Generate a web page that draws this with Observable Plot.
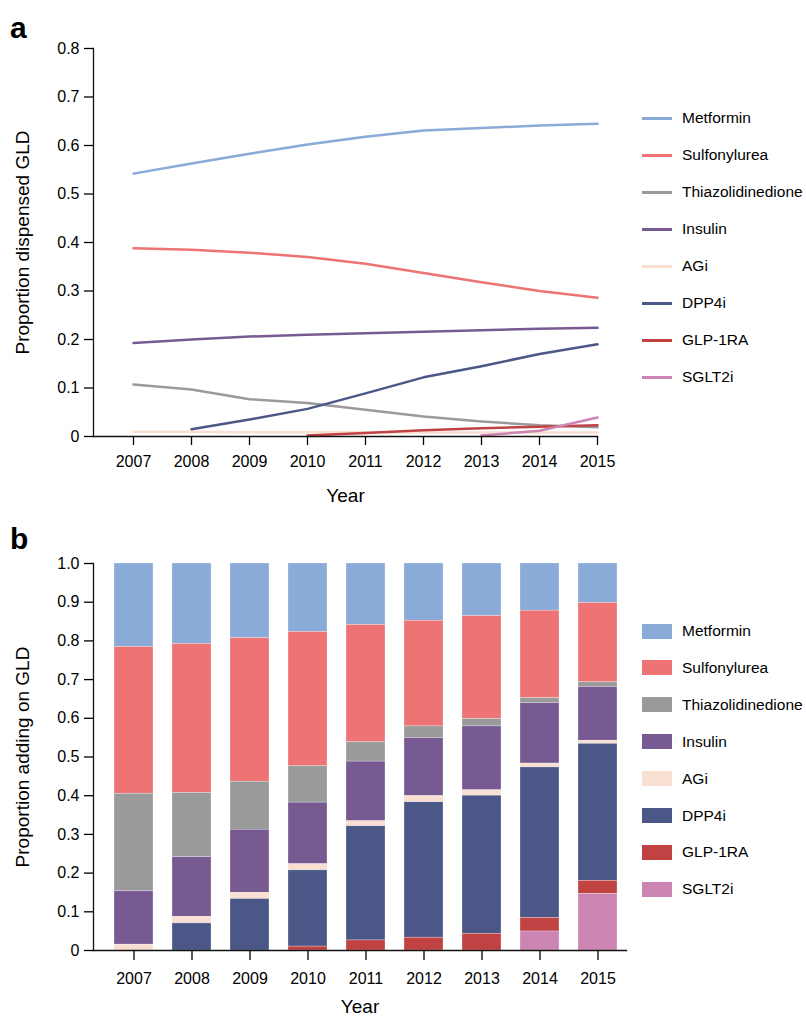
<!DOCTYPE html>
<html><head><meta charset="utf-8">
<script src="https://cdn.jsdelivr.net/npm/d3@7"></script>
<script src="https://cdn.jsdelivr.net/npm/@observablehq/plot@0.6"></script>
<style>
body{margin:0;background:#fff;font-family:"Liberation Sans",Arial,sans-serif;color:#000;}
#wrap{position:relative;width:806px;height:1018px;overflow:hidden;}
.panel{position:absolute;left:0;}
.letter{position:absolute;font-weight:bold;font-size:30px;line-height:30px;}
.item{position:absolute;left:642px;height:20px;display:flex;align-items:center;font-size:15.5px;white-space:nowrap;}
.item .key{width:30px;margin-right:10px;flex:none;}
</style></head>
<body>
<div id="wrap"></div>
<script>
const years = [2007, 2008, 2009, 2010, 2011, 2012, 2013, 2014, 2015];
const drugs = ["Metformin", "Sulfonylurea", "Thiazolidinedione", "Insulin", "AGi", "DPP4i", "GLP-1RA", "SGLT2i"];
const colors = ["#8aaad8", "#ee7375", "#9a9a9a", "#775a92", "#f8dfd1", "#4a5787", "#c04242", "#cc84b2"];
const yTicksA = [0, 0.1, 0.2, 0.3, 0.4, 0.5, 0.6, 0.7, 0.8];
const yTicksB = [0, 0.1, 0.2, 0.3, 0.4, 0.5, 0.6, 0.7, 0.8, 0.9, 1.0];

// Panel a: proportion dispensed
const metforminDisp = [0.542, 0.563, 0.583, 0.602, 0.618, 0.631, 0.636, 0.641, 0.645];
const sulfonylureaDisp = [0.388, 0.385, 0.379, 0.370, 0.356, 0.337, 0.318, 0.300, 0.286];
const tzdDisp = [0.107, 0.097, 0.077, 0.069, 0.055, 0.041, 0.031, 0.023, 0.019];
const insulinDisp = [0.193, 0.200, 0.206, 0.210, 0.213, 0.216, 0.219, 0.222, 0.224];
const agiDisp = [0.010, 0.010, 0.009, 0.009, 0.009, 0.008, 0.008, 0.008, 0.008];
const dpp4iDisp = [null, 0.015, 0.035, 0.057, 0.089, 0.122, 0.145, 0.170, 0.190];
const glp1Disp = [null, null, null, 0.002, 0.007, 0.013, 0.017, 0.020, 0.023];
const sglt2Disp = [null, null, null, null, null, null, 0.002, 0.012, 0.039];

// Panel b: proportion adding on
const metforminAdd = [0.216, 0.208, 0.193, 0.177, 0.159, 0.148, 0.136, 0.122, 0.102];
const sulfonylureaAdd = [0.379, 0.385, 0.371, 0.347, 0.303, 0.273, 0.266, 0.226, 0.205];
const tzdAdd = [0.252, 0.166, 0.124, 0.094, 0.050, 0.030, 0.019, 0.013, 0.012];
const insulinAdd = [0.138, 0.154, 0.163, 0.159, 0.154, 0.150, 0.165, 0.156, 0.139];
const agiAdd = [0.015, 0.017, 0.016, 0.016, 0.013, 0.016, 0.014, 0.010, 0.008];
const dpp4iAdd = [0, 0.070, 0.133, 0.197, 0.295, 0.350, 0.357, 0.389, 0.354];
const glp1Add = [0, 0, 0, 0.010, 0.026, 0.033, 0.043, 0.035, 0.034];
const sglt2Add = [0, 0, 0, 0, 0, 0, 0, 0.049, 0.146];

const dispSeries = [metforminDisp, sulfonylureaDisp, tzdDisp, insulinDisp, agiDisp, dpp4iDisp, glp1Disp, sglt2Disp];
const addSeries = [metforminAdd, sulfonylureaAdd, tzdAdd, insulinAdd, agiAdd, dpp4iAdd, glp1Add, sglt2Add];

const lineData = [];
drugs.forEach((drug, i) => years.forEach((year, j) => {
  const v = dispSeries[i][j];
  if (v != null) lineData.push({drug, year, value: v});
}));
const barData = [];
drugs.forEach((drug, i) => years.forEach((year, j) => barData.push({drug, year, value: addSeries[i][j]})));
const stackOrder = drugs.slice().reverse();

const fmt = d => d === 0 ? "0" : d.toFixed(1);
const font = "Liberation Sans, Arial, sans-serif";
const wrap = document.getElementById("wrap");

const chartA = Plot.plot({
  width: 806, height: 510,
  marginLeft: 93, marginRight: 209, marginTop: 48, marginBottom: 74,
  style: {fontFamily: font, fontSize: "16px", color: "#000", background: "transparent", overflow: "visible"},
  x: {domain: [2007, 2015], insetLeft: 40},
  y: {domain: [0, 0.8]},
  color: {domain: drugs, range: colors},
  marks: [
    Plot.lineY(lineData, {x: "year", y: "value", stroke: "drug", z: "drug", strokeWidth: 2.5}),
    Plot.frame({anchor: "left", stroke: "#111", strokeWidth: 1.3}),
    Plot.frame({anchor: "bottom", stroke: "#111", strokeWidth: 1.3}),
    Plot.axisX({ticks: years, tickFormat: "d", tickSize: 9, tickPadding: 10, strokeWidth: 1.3, label: null, fontSize: 16}),
    Plot.axisY({ticks: yTicksA, tickFormat: fmt, tickSize: 9, tickPadding: 5, strokeWidth: 1.3, label: null, fontSize: 16}),
    Plot.text(["Year"], {frameAnchor: "bottom", dy: 65, fontSize: 19}),
    Plot.text(["Proportion dispensed GLD"], {frameAnchor: "left", textAnchor: "middle", rotate: -90, dx: -71, fontSize: 19})
  ]
});
chartA.classList.add("panel");
chartA.style.top = "0px";
wrap.appendChild(chartA);

const chartB = Plot.plot({
  width: 806, height: 508,
  marginLeft: 93, marginRight: 180, marginTop: 53, marginBottom: 68,
  style: {fontFamily: font, fontSize: "16px", color: "#000", background: "transparent", overflow: "visible"},
  x: {type: "band", domain: years, paddingInner: 0.334, paddingOuter: 0.167, insetLeft: 11},
  y: {domain: [0, 1]},
  color: {domain: drugs, range: colors},
  marks: [
    Plot.barY(barData, {x: "year", y: "value", fill: "drug", order: stackOrder, stroke: "white", strokeOpacity: 0.45, strokeWidth: 0.6}),
    Plot.frame({anchor: "left", stroke: "#111", strokeWidth: 1.3}),
    Plot.frame({anchor: "bottom", stroke: "#111", strokeWidth: 1.3}),
    Plot.axisX({tickFormat: "d", tickSize: 10, tickPadding: 12, strokeWidth: 1.3, label: null, fontSize: 16}),
    Plot.axisY({ticks: yTicksB, tickFormat: fmt, tickSize: 9, tickPadding: 5, strokeWidth: 1.3, label: null, fontSize: 16}),
    Plot.text(["Year"], {frameAnchor: "bottom", dy: 62, fontSize: 19}),
    Plot.text(["Proportion adding on GLD"], {frameAnchor: "left", textAnchor: "middle", rotate: -90, dx: -71, fontSize: 19})
  ]
});
chartB.classList.add("panel");
chartB.style.top = "510px";
wrap.appendChild(chartB);

// letters
[["a", 10, 13], ["b", 10, 524]].forEach(([t, x, y]) => {
  const d = document.createElement("div");
  d.className = "letter"; d.textContent = t;
  d.style.left = x + "px"; d.style.top = y + "px";
  wrap.appendChild(d);
});

// legends
drugs.forEach((drug, i) => {
  const a = document.createElement("div");
  a.className = "item";
  a.style.top = (118 + 37 * i - 10) + "px";
  a.innerHTML = `<span class="key" style="height:3px;background:${colors[i]}"></span><span>${drug}</span>`;
  wrap.appendChild(a);
  const b = document.createElement("div");
  b.className = "item";
  b.style.top = (631 + 36.9 * i - 10) + "px";
  b.innerHTML = `<span class="key" style="height:15px;background:${colors[i]}"></span><span>${drug}</span>`;
  wrap.appendChild(b);
});
</script>
</body></html>
